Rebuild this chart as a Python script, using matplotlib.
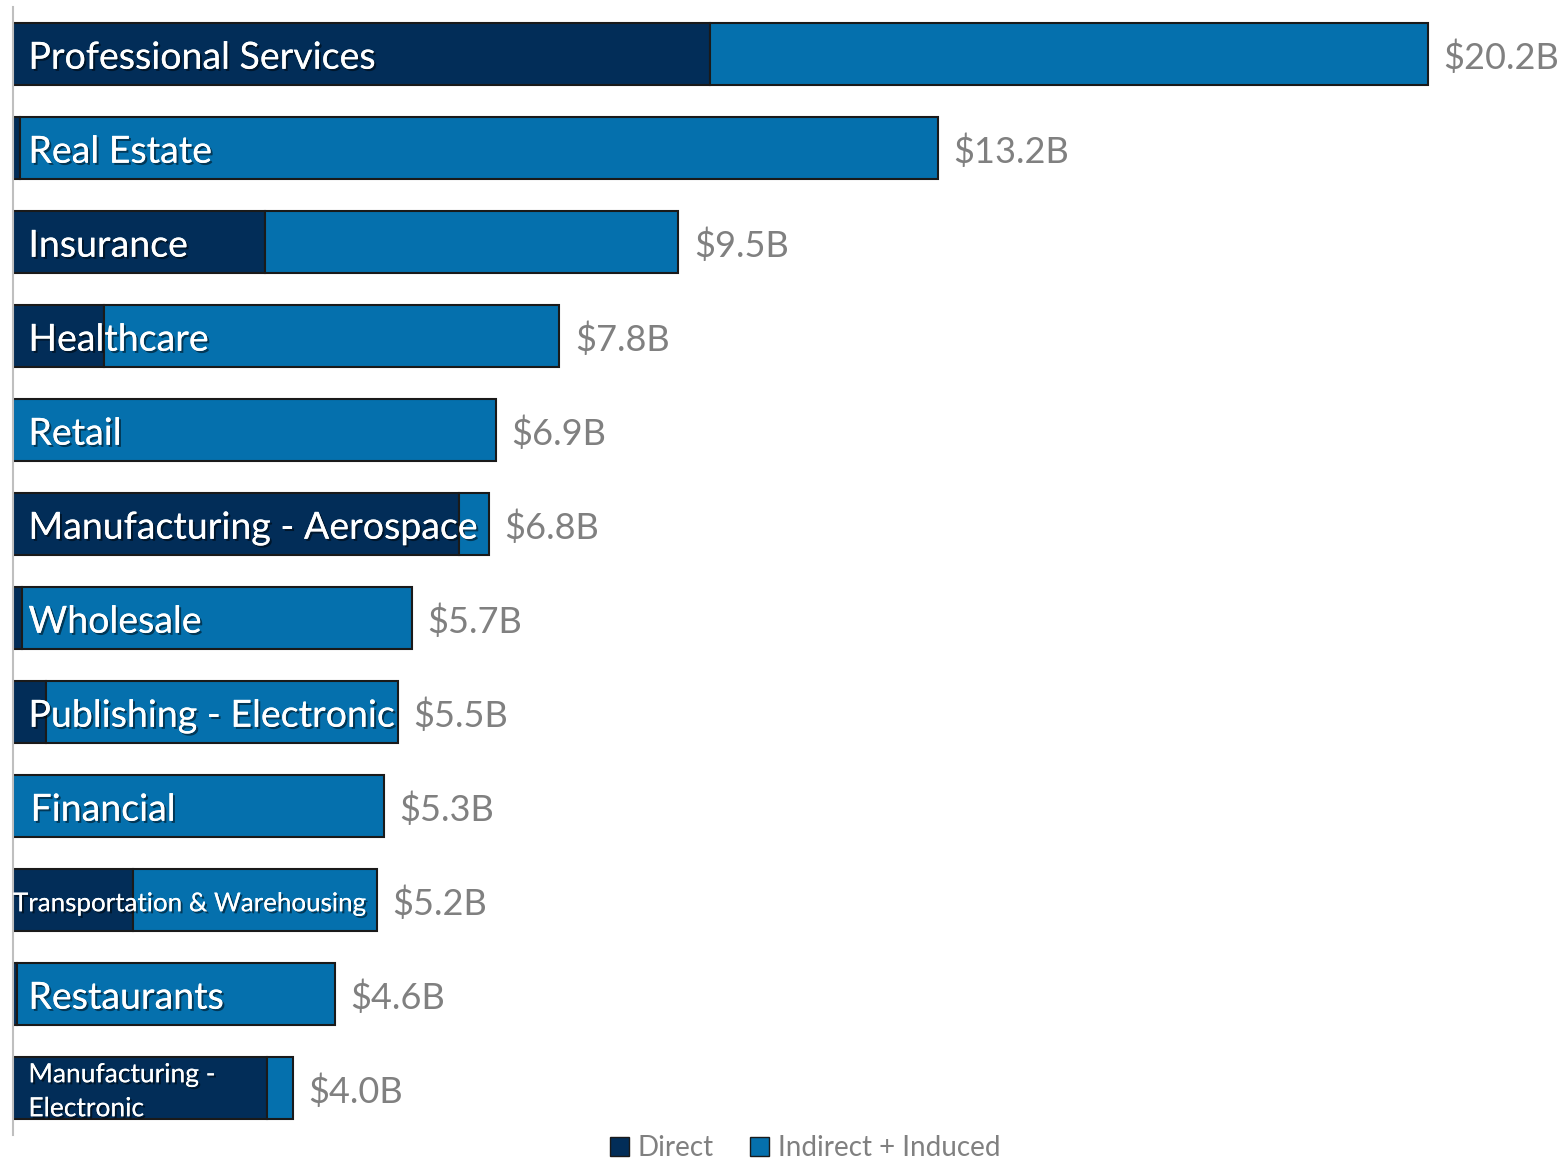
import numpy as np
import matplotlib.pyplot as plt
import matplotlib.patheffects as pe
from matplotlib.patches import Patch

industries = ['Professional Services', 'Real Estate', 'Insurance', 'Healthcare', 'Retail',
              'Manufacturing - Aerospace', 'Wholesale', 'Publishing - Electronic', 'Financial',
              'Transportation & Warehousing', 'Restaurants', 'Manufacturing -\nElectronic']
total = [20.2, 13.2, 9.5, 7.8, 6.9, 6.8, 5.7, 5.5, 5.3, 5.2, 4.6, 4.0]
direct = [9.95, 0.1, 3.6, 1.3, 0.0, 6.37, 0.13, 0.47, 0.0, 1.72, 0.06, 3.63]
value_labels = ['$20.2B', '$13.2B', '$9.5B', '$7.8B', '$6.9B', '$6.8B', '$5.7B', '$5.5B',
                '$5.3B', '$5.2B', '$4.6B', '$4.0B']
label_sizes = [27, 27, 27, 27, 27, 27, 27, 27, 27, 18.7, 27, 19]
label_x = [0.22, 0.22, 0.22, 0.22, 0.22, 0.22, 0.22, 0.22, 0.25, 0.0, 0.22, 0.22]

indirect = np.array(total) - np.array(direct)
y = np.arange(len(industries))

plt.rcParams['font.family'] = ['Lato', 'DejaVu Sans']

fig = plt.figure(figsize=(15.68, 11.62), dpi=100)
ax = fig.add_axes([13 / 1568, 1 - 1135 / 1162, 1 - 13 / 1568, 1128 / 1162])

c_direct = '#022d58'
c_indirect = '#0570ad'
edge = '#1a1a1a'

ax.barh(y, direct, height=0.67, color=c_direct, edgecolor=edge, linewidth=1.5)
ax.barh(y, indirect, left=direct, height=0.67, color=c_indirect, edgecolor=edge, linewidth=1.5)

shadow = [pe.withSimplePatchShadow(offset=(1.5, -1.5), shadow_rgbFace='black', alpha=0.5), pe.Normal()]
for i in range(len(industries)):
    ax.text(label_x[i], y[i] + 0.04, industries[i], color='white', fontsize=label_sizes[i],
            va='center', ha='left', path_effects=shadow, linespacing=1.45)
    ax.text(total[i] + 0.22, y[i] + 0.04, value_labels[i], color='#808080', fontsize=26,
            va='center', ha='left', clip_on=False)

ax.set_xlim(0, 22.2)
ax.set_ylim(len(industries) - 0.5, -0.5)
ax.set_xticks([])
ax.set_yticks([])
for s in ['top', 'right', 'bottom']:
    ax.spines[s].set_visible(False)
ax.spines['left'].set_color('#bfbfbf')
ax.spines['left'].set_linewidth(1.5)

handles = [Patch(facecolor=c_direct, edgecolor=edge, label='Direct'),
           Patch(facecolor=c_indirect, edgecolor=edge, label='Indirect + Induced')]
leg = fig.legend(handles=handles, loc='center', bbox_to_anchor=(805 / 1568, 1 - 1148 / 1162),
                 ncol=2, frameon=False, fontsize=20, handlelength=0.7, handleheight=0.7,
                 handletextpad=0.3, columnspacing=1.3)
for t in leg.get_texts():
    t.set_color('#808080')

fig.savefig('out.png', dpi=100)
